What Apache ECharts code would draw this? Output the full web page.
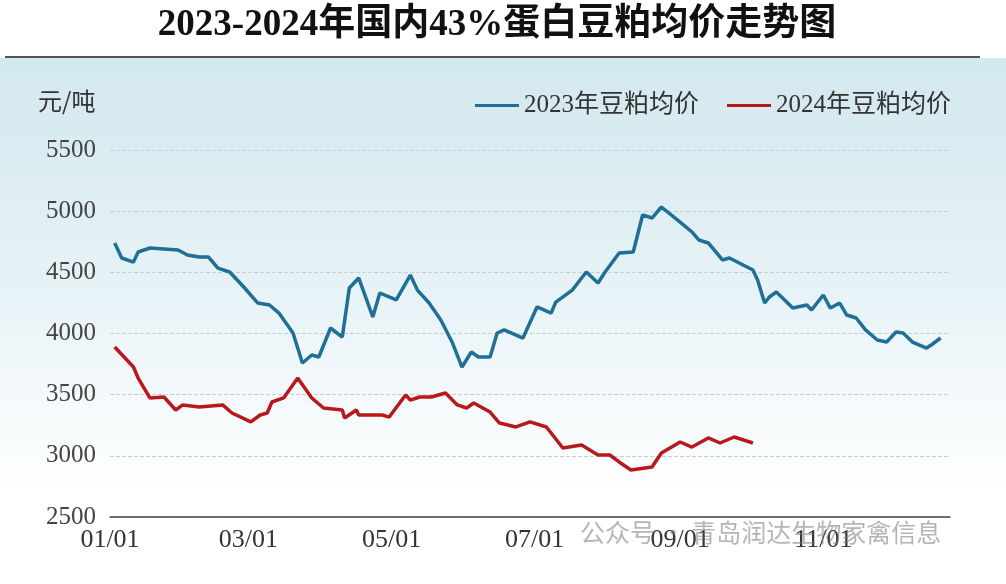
<!DOCTYPE html>
<html><head><meta charset="utf-8">
<script src="https://cdn.jsdelivr.net/npm/echarts@6/dist/echarts.min.js"></script>
<style>html,body{margin:0;padding:0;background:#fff}#c{width:1006px;height:584px}</style>
</head><body><div id="c"></div>
<script>
const title = '2023-2024年国内43%蛋白豆粕均价走势图';
const seriesNames = ['2023年豆粕均价', '2024年豆粕均价'];
const monthTicks = [0, 59, 120, 181, 243, 304];
const monthLabels = ['01/01', '03/01', '05/01', '07/01', '09/01', '11/01'];
const days2023 = [2,5,10,12,17,29,33,38,42,46,51,57,63,68,72,78,82,86,89,94,99,102,106,112,115,122,128,131,136,141,146,150,154,157,162,165,168,176,182,188,190,197,203,208,211,217,223,227,231,235,243,248,251,255,261,264,274,276,279,281,284,291,297,299,304,307,311,314,318,322,327,331,335,338,342,348,350,354];
const price2023 = [4740,4617,4584,4666,4699,4682,4642,4625,4625,4535,4503,4380,4249,4233,4167,4004,3759,3824,3808,4045,3971,4372,4454,4135,4331,4274,4478,4355,4249,4110,3922,3726,3849,3808,3808,4004,4029,3963,4217,4167,4257,4355,4503,4413,4503,4658,4666,4969,4944,5034,4911,4830,4764,4740,4601,4617,4519,4437,4249,4298,4339,4208,4233,4192,4315,4208,4249,4151,4127,4029,3947,3930,4012,4004,3930,3881,3906,3963];
const days2024 = [2,6,10,12,17,23,28,31,38,48,52,60,64,67,69,74,80,83,86,91,99,100,105,106,116,119,126,128,132,137,143,148,152,155,162,166,173,179,186,193,201,208,213,217,222,231,235,243,248,255,260,266,274];
const price2024 = [3890,3808,3726,3636,3473,3481,3375,3416,3399,3416,3350,3277,3334,3350,3440,3473,3636,3554,3473,3391,3375,3309,3375,3334,3334,3317,3497,3456,3481,3481,3514,3416,3391,3432,3358,3268,3236,3277,3236,3064,3089,3007,3007,2950,2884,2909,3023,3113,3072,3146,3105,3154,3105];

const serif = '"Liberation Serif","DejaVu Serif","Noto Sans CJK SC",serif';
const chart = echarts.init(document.getElementById('c'));
chart.setOption({
  animation: false,
  backgroundColor: new echarts.graphic.LinearGradient(0, 0, 0, 1, [
    {offset: 0, color: '#ffffff'}, {offset: 0.1, color: '#d3e8ef'},
    {offset: 0.45, color: '#e4f1f5'}, {offset: 0.85, color: '#ffffff'}, {offset: 1, color: '#ffffff'}]),
  title: {text: title, left: 492, top: 2, textAlign: 'center',
    textStyle: {fontFamily: serif, fontSize: 37, fontWeight: 'bold', color: '#111'}},
  graphic: [
    {type: 'rect', shape: {x: 0, y: 0, width: 1006, height: 58}, style: {fill: '#ffffff'}, z: -1},
    {type: 'line', shape: {x1: 5, y1: 57, x2: 980, y2: 57}, style: {stroke: '#555', lineWidth: 2}},
    {type: 'text', left: 38, top: 89, style: {text: '元/吨', font: '24px "Noto Sans CJK SC"', fill: '#333'}},
    {type: 'text', left: 580, top: 520, style: {text: '公众号 · 青岛润达生物家禽信息', font: '25px "Noto Sans CJK SC"', fill: 'rgba(120,120,120,0.55)'}, z: 100}
  ],
  legend: {top: 88, right: 50, itemWidth: 44, itemHeight: 3, itemGap: 28, icon: 'rect',
    textStyle: {fontFamily: serif, fontSize: 25, color: '#333'}, data: seriesNames},
  grid: {left: 110, right: 56, top: 150, bottom: 67},
  xAxis: {type: 'value', min: 0, max: 358,
    axisLine: {lineStyle: {color: '#444', width: 1.5}}, axisTick: {show: false},
    splitLine: {show: false},
    axisLabel: {customValues: monthTicks, formatter: v => monthLabels[monthTicks.indexOf(v)],
      fontFamily: serif, fontSize: 26, color: '#333', margin: 10}},
  yAxis: {type: 'value', min: 2500, max: 5500, interval: 500,
    axisLine: {show: false}, axisTick: {show: false},
    splitLine: {lineStyle: {type: 'dashed', color: '#c8cfd2'}},
    axisLabel: {formatter: v => String(v), fontFamily: serif, fontSize: 25, color: '#444', margin: 14}},
  series: [
    {name: seriesNames[0], type: 'line', showSymbol: false, data: days2023.map((d, i) => [d, price2023[i]]),
      lineStyle: {color: '#1f6f96', width: 3.5}, itemStyle: {color: '#1f6f96'}},
    {name: seriesNames[1], type: 'line', showSymbol: false, data: days2024.map((d, i) => [d, price2024[i]]),
      lineStyle: {color: '#b8191c', width: 3.5}, itemStyle: {color: '#b8191c'}}
  ]
});
</script></body></html>
